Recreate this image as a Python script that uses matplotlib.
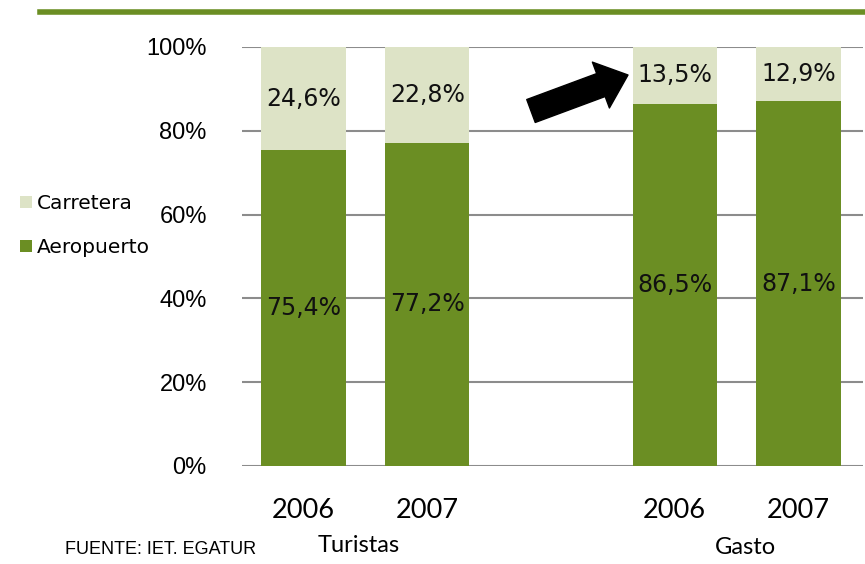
import matplotlib.pyplot as plt
from matplotlib.lines import Line2D

# Datos del gráfico
posiciones = [0, 1, 3, 4]
anios = ["2006", "2007", "2006", "2007"]
grupos = ["Turistas", "Gasto"]
aeropuerto = [75.4, 77.2, 86.5, 87.1]
carretera = [24.6, 22.8, 13.5, 12.9]

verde = "#6b8e23"
verde_claro = "#dde3c6"
gris = "#8c8c8c"

fig = plt.figure(figsize=(8.65, 5.64), dpi=100)
ax = fig.add_axes([0.2793, 0.1738, 0.7182, 0.7429])

b1 = ax.bar(posiciones, aeropuerto, width=0.68, color=verde, label="Aeropuerto", zorder=2)
b2 = ax.bar(posiciones, carretera, width=0.68, bottom=aeropuerto, color=verde_claro,
            label="Carretera", zorder=2)

fmt = lambda v: f"{v:.1f}%".replace(".", ",")
ax.bar_label(b1, labels=[fmt(v) for v in aeropuerto], label_type="center",
             fontsize=17, family="DejaVu Sans", color="#111111")
ax.bar_label(b2, labels=[fmt(v) for v in carretera], label_type="center",
             fontsize=17, family="DejaVu Sans", color="#111111")

# Ejes
ax.set_xlim(-0.5, 4.52)
ax.set_ylim(0, 100)
ax.set_yticks([0, 20, 40, 60, 80, 100])
ax.set_yticklabels([f"{v}%" for v in range(0, 101, 20)], family="Liberation Sans", fontsize=17)
ax.set_xticks(posiciones)
ax.set_xticklabels(anios, family="Lato", fontsize=19.5)
ax.tick_params(axis="both", length=0)
ax.tick_params(axis="x", pad=23)
ax.tick_params(axis="y", pad=25)
ax.yaxis.grid(True, color=gris, linewidth=1.5, zorder=0)
for s in ax.spines.values():
    s.set_visible(False)
ax.set_axisbelow(True)

# Grupos
ax.text(0.45, -0.19, grupos[0], transform=ax.get_xaxis_transform(), ha="center", va="center",
        family="Lato", fontsize=17)
ax.text(3.57, -0.195, grupos[1], transform=ax.get_xaxis_transform(), ha="center", va="center",
        family="Lato", fontsize=17)

# Leyenda
handles, labels = ax.get_legend_handles_labels()
fig.legend(handles[::-1], labels[::-1], loc="center left", bbox_to_anchor=(0.002, 0.6),
           frameon=False, prop={"family": "DejaVu Sans", "size": 14.5},
           handlelength=0.6, handleheight=0.6, handletextpad=0.25, labelspacing=1.25)

# Línea superior y fuente
fig.add_artist(Line2D([40 / 865, 1.0], [1 - 12 / 564] * 2, color=verde, linewidth=4,
                      transform=fig.transFigure))
fig.text(65 / 865, 1 - 550 / 564, "FUENTE: IET. EGATUR", family="Liberation Sans",
         fontsize=13, va="center")

# Flecha
ax.annotate("", xy=(628, 564 - 75), xytext=(531, 564 - 111), xycoords="figure pixels",
            textcoords="figure pixels",
            arrowprops=dict(arrowstyle="simple,head_width=2.2,head_length=1.3,tail_width=1.1",
                            mutation_scale=16, color="black", shrinkA=0, shrinkB=0))

fig.savefig("out.png", dpi=100)
